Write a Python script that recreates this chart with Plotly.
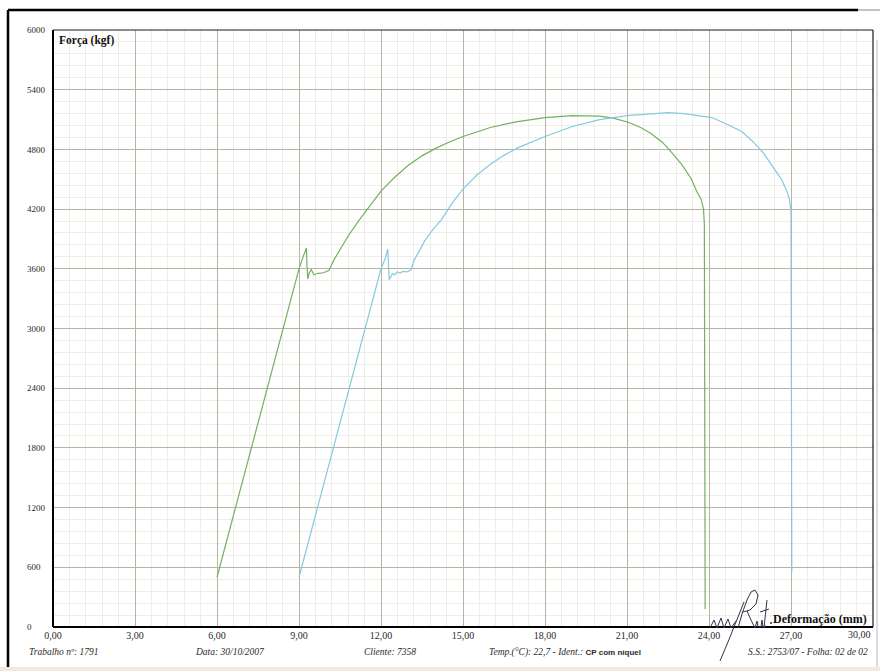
import plotly.graph_objects as go

# ---- data ----
CP1_X = [6.0, 7.0, 8.0, 8.5, 9.0, 9.15, 9.27, 9.29, 9.32, 9.38, 9.45, 9.55, 9.7, 9.9, 10.1,
         10.3, 10.8, 11.2, 11.6, 12.0, 12.5, 13.0, 13.5, 14.0, 14.5, 15.0, 16.0, 17.0, 18.0,
         19.0, 20.0, 20.5, 21.07, 21.5, 21.88, 22.3, 22.6, 23.0, 23.34, 23.55, 23.71, 23.8,
         23.83, 23.85, 23.86]
CP1_Y = [500, 1530, 2560, 3080, 3600, 3720, 3810, 3650, 3500, 3560, 3590, 3540, 3555, 3560, 3585,
         3700, 3930, 4090, 4240, 4380, 4520, 4640, 4735, 4810, 4875, 4930, 5020, 5080, 5120,
         5140, 5135, 5115, 5070, 5020, 4960, 4870, 4780, 4650, 4510, 4380, 4300, 4200,
         4050, 2000, 180]

CP2_X = [9.0, 10.0, 11.0, 11.5, 12.0, 12.15, 12.25, 12.27, 12.3, 12.42, 12.5, 12.6, 12.7, 12.8,
         12.95, 13.1, 13.2, 13.6, 13.9, 14.2, 14.6, 15.0, 15.5, 16.0, 16.5, 17.0, 17.5, 18.0,
         19.0, 20.0, 21.0, 22.0, 22.5, 23.1, 24.1, 24.6, 25.2, 25.6, 26.0, 26.4, 26.65, 26.85,
         26.95, 27.0, 27.02, 27.03]
CP2_Y = [500, 1530, 2560, 3080, 3600, 3700, 3800, 3650, 3490, 3550, 3540, 3570, 3555, 3575,
         3570, 3590, 3680, 3880, 3995, 4090, 4260, 4400, 4540, 4650, 4740, 4815, 4875, 4930,
         5030, 5100, 5140, 5165, 5170, 5160, 5120, 5060, 4980, 4880, 4760, 4600, 4500, 4380,
         4290, 4180, 2500, 550]

X_TICKS = [0, 3, 6, 9, 12, 15, 18, 21, 24, 27, 30]
X_TICK_TEXT = ["0,00", "3,00", "6,00", "9,00", "12,00", "15,00", "18,00", "21,00", "24,00", "27,00", "30,00"]
Y_TICKS = [0, 600, 1200, 1800, 2400, 3000, 3600, 4200, 4800, 5400, 6000]

FOOTER = [
    ("Trabalho nº: 1791", 27, "left"),
    ("Data: 30/10/2007", 193, "left"),
    ("Cliente: 7358", 362, "left"),
    ("S.S.: 2753/07 - Folha: 02 de 02", 870, "right"),
]

# ---- layout constants ----
W, H = 880, 671
L, R, T, B = 53, 873, 30, 627


def px(xp):
    return (xp - L) / (R - L)


def py(yp):
    return (B - yp) / (B - T)


SERIF = "Liberation Serif, Times New Roman, serif"
GREEN = "#74b062"
CYAN = "#86c9df"

fig = go.Figure()
fig.add_trace(go.Scatter(x=CP1_X, y=CP1_Y, mode="lines", line=dict(color=GREEN, width=1.2),
                         name="CP 1", hoverinfo="skip"))
fig.add_trace(go.Scatter(x=CP2_X, y=CP2_Y, mode="lines", line=dict(color=CYAN, width=1.2),
                         name="CP 2", hoverinfo="skip"))

ytext = [str(v) + "\u2007" * (4 - len(str(v))) for v in Y_TICKS]
xtext = X_TICK_TEXT[:-1] + [""]

fig.update_layout(
    width=W, height=H,
    margin=dict(l=L, r=W - R, t=T, b=H - B),
    paper_bgcolor="white", plot_bgcolor="white",
    showlegend=False,
    font=dict(family=SERIF, color="#2a2a2a"),
    xaxis=dict(range=[0, 30], tickvals=X_TICKS, ticktext=xtext, ticks="", showline=False,
               zeroline=False, showgrid=True, gridcolor="#b7b4a3", gridwidth=1,
               tickfont=dict(family=SERIF, size=10, color="#2a2a2a"), ticklabelstandoff=1,
               minor=dict(dtick=0.6, tick0=0, showgrid=True, gridcolor="#eeede7", gridwidth=1),
               fixedrange=True),
    yaxis=dict(range=[0, 6000], tickvals=Y_TICKS, ticktext=ytext, ticks="", showline=False,
               zeroline=False, showgrid=True, gridcolor="#b7b4a3", gridwidth=1,
               tickfont=dict(family=SERIF, size=9, color="#2a2a2a"), ticklabelstandoff=7,
               minor=dict(dtick=120, tick0=0, showgrid=True, gridcolor="#eeede7", gridwidth=1),
               fixedrange=True),
)

shapes = []
# plot frame
shapes.append(dict(type="line", xref="paper", yref="paper", x0=0, x1=0, y0=0, y1=1,
                   line=dict(color="black", width=2)))
shapes.append(dict(type="line", xref="paper", yref="paper", x0=0, x1=1, y0=0, y1=0,
                   line=dict(color="black", width=2)))
shapes.append(dict(type="line", xref="paper", yref="paper", x0=0, x1=1, y0=1, y1=1,
                   line=dict(color="#1a1a1a", width=1.2)))
shapes.append(dict(type="line", xref="paper", yref="paper", x0=1, x1=1, y0=0, y1=1,
                   line=dict(color="#1a1a1a", width=1.2)))
# page frame
shapes.append(dict(type="rect", xref="paper", yref="paper", x0=px(0), x1=px(W), y0=py(667), y1=py(H),
                   fillcolor="#f3e7e1", line=dict(width=0), layer="below"))
shapes.append(dict(type="line", xref="paper", yref="paper", x0=px(8), x1=px(8), y0=py(10), y1=py(667),
                   line=dict(color="black", width=2.5)))
shapes.append(dict(type="line", xref="paper", yref="paper", x0=px(8), x1=px(858), y0=py(10), y1=py(10),
                   line=dict(color="black", width=2.5)))
shapes.append(dict(type="line", xref="paper", yref="paper", x0=px(858), x1=px(W), y0=py(10), y1=py(10),
                   line=dict(color="#888", width=1)))
shapes.append(dict(type="line", xref="paper", yref="paper", x0=px(877), x1=px(877), y0=py(40), y1=py(667),
                   line=dict(color="#bbb", width=1)))


# signature (decorative strokes, pixel coordinates converted to paper)
def sig_path(points):
    return "M " + " L ".join(f"{px(a):.5f},{py(b):.5f}" for a, b in points)


sig_strokes = [
    # long descender
    [(744, 602), (736, 622), (728, 642), (720, 661)],
    # small left wiggle
    [(710, 628), (714, 620), (717, 628), (721, 618), (724, 628), (728, 619), (731, 628), (736, 621)],
    # main loop
    [(738, 628), (742, 614), (747, 600), (751, 592), (755, 590), (758, 595), (756, 604),
     (750, 610), (743, 612)],
    # leg and 'ut'
    [(747, 611), (751, 620), (755, 628), (757, 621), (758, 627), (761, 627), (762, 620),
     (763, 627), (766, 626)],
    # t stem and cross
    [(767, 600), (764, 628)],
    [(760, 612), (769, 609)],
]
for s in sig_strokes:
    shapes.append(dict(type="path", xref="paper", yref="paper", path=sig_path(s),
                       line=dict(color="#33334a", width=1)))
shapes.append(dict(type="circle", xref="paper", yref="paper", x0=px(770), x1=px(772), y0=py(624), y1=py(622),
                   fillcolor="#333", line=dict(width=0)))
fig.update_layout(shapes=shapes)

ann = []
ann.append(dict(text="<b>Força (kgf)</b>", xref="paper", yref="paper", x=px(57), y=py(40),
                xanchor="left", yanchor="middle", showarrow=False,
                font=dict(family=SERIF, size=11.5, color="#111")))
ann.append(dict(text="<b>Deformação (mm)</b>", xref="paper", yref="paper", x=px(869), y=py(619),
                xanchor="right", yanchor="middle", showarrow=False,
                font=dict(family=SERIF, size=12, color="#111")))
ann.append(dict(text=X_TICK_TEXT[-1], xref="x", yref="paper", x=X_TICKS[-1], y=py(634),
                xanchor="right", yanchor="middle", showarrow=False,
                font=dict(family=SERIF, size=10, color="#2a2a2a")))
for txt, xp, anchor in FOOTER:
    ann.append(dict(text=f"<i>{txt}</i>", xref="paper", yref="paper", x=px(xp), y=py(652),
                    xanchor=anchor, yanchor="middle", showarrow=False,
                    font=dict(family=SERIF, size=9.5, color="#2a2a2a")))
ann.append(dict(text="<i>Temp.(°C): 22,7 - Ident.:</i> <b><span style='font-family:Liberation Sans, Arial, sans-serif;font-size:8px'>CP com níquel</span></b>",
                xref="paper", yref="paper", x=px(487), y=py(652),
                xanchor="left", yanchor="middle", showarrow=False,
                font=dict(family=SERIF, size=9.5, color="#2a2a2a")))
fig.update_layout(annotations=ann)

fig.write_html("out.html")
